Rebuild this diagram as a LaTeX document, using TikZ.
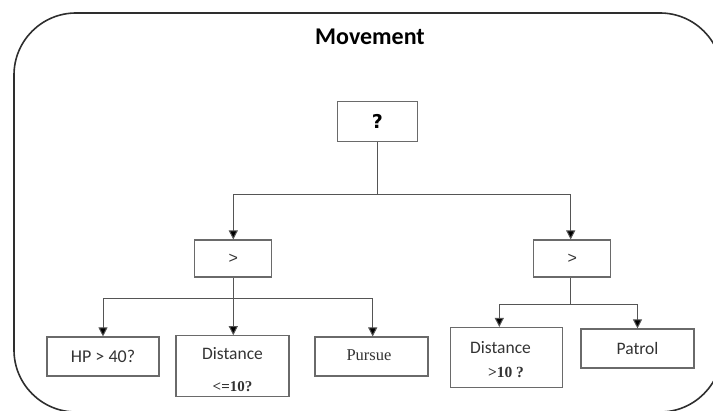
\documentclass[tikz,border=0pt]{standalone}
\usepackage{fontspec}
\setmainfont{Carlito}
\newfontfamily\serifface{Liberation Serif}
\newfontfamily\boldsans{DejaVu Sans}
\newfontfamily\gtface{Liberation Sans}
\usetikzlibrary{arrows.meta}
\definecolor{boxline}{HTML}{6A6A6A}
\definecolor{conline}{HTML}{555555}
\definecolor{txtcol}{HTML}{333333}
\definecolor{framecol}{HTML}{2E2E2E}
\tikzset{
  box/.style={draw=boxline, line width=1.1pt, inner sep=0pt, text=txtcol},
  conn/.style={draw=conline, line width=1pt},
  arr/.style={conn, -{Triangle[width=9pt,length=9pt,fill=black]}},
  lbl/.style={inner sep=0pt, text=txtcol},
}
\begin{document}
\begin{tikzpicture}[x=1pt,y=-1pt]
\useasboundingbox (0,0) rectangle (713,411);
\draw[framecol, line width=1.6pt, rounded corners=62pt] (14,13) rectangle (722,412);
\node[lbl, text=black] (title) at (370,37) {\fontsize{24}{28}\selectfont\bfseries Movement};
% boxes
\node[box, text=black, minimum width=80pt, minimum height=40pt] (q) at (377.3,121.4) {\boldsans\fontsize{19}{24}\selectfont\bfseries ?};
\node[box, minimum width=77pt, minimum height=37pt] (g1) at (233.3,258.5) {\gtface\fontsize{16}{20}\selectfont >};
\node[box, minimum width=77pt, minimum height=37pt] (g2) at (572.3,258.5) {\gtface\fontsize{16}{20}\selectfont >};
\node[box, minimum width=112pt, minimum height=39pt] (hp) at (103,356.5) {\fontsize{18}{21}\selectfont HP > 40?};
\node[box, minimum width=113pt, minimum height=61pt] (d1) at (232.5,366.2) {};
\node[box, minimum width=113pt, minimum height=39pt] (pu) at (371.5,356.5) {};
\node[box, minimum width=112pt, minimum height=60pt] (d2) at (506.5,357.5) {};
\node[box, minimum width=113pt, minimum height=39pt] (pa) at (637.5,348.5) {\fontsize{17.5}{20}\selectfont Patrol};
% texts inside two-line boxes
\node[lbl] (d1a) at (232.5,354) {\fontsize{17.5}{20}\selectfont Distance};
\node[lbl] (d1b) at (232.5,387) {\serifface\fontsize{15}{18}\selectfont\bfseries <=10?};
\node[lbl] (put) at (369,355) {\serifface\fontsize{16.5}{19}\selectfont Pursue};
\node[lbl] (d2a) at (500.5,347.5) {\fontsize{17.5}{20}\selectfont Distance};
\node[lbl] (d2b) at (506,372) {\serifface\fontsize{15.5}{18}\selectfont\bfseries >10 ?};
% connectors
\draw[conn] (q.south) -- ++(0,52.6) coordinate (j0);
\draw[arr] (j0) -| (g1.north);
\draw[arr] (j0) -| ([xshift=-1.6pt]g2.north);
\draw[arr] (g1.south) -- (g1.south |- d1.north);
\path (g1.south) ++(0,21) coordinate (j1);
\draw[arr] (j1) -| (hp.north);
\draw[arr] (j1) -| ([xshift=1.2pt]pu.north);
\draw[conn] ([xshift=-1.6pt]g2.south) -- ++(0,27) coordinate (j2);
\draw[arr] (j2) -| ([xshift=-7.2pt]d2.north);
\draw[arr] (j2) -| (pa.north);
\end{tikzpicture}
\end{document}
